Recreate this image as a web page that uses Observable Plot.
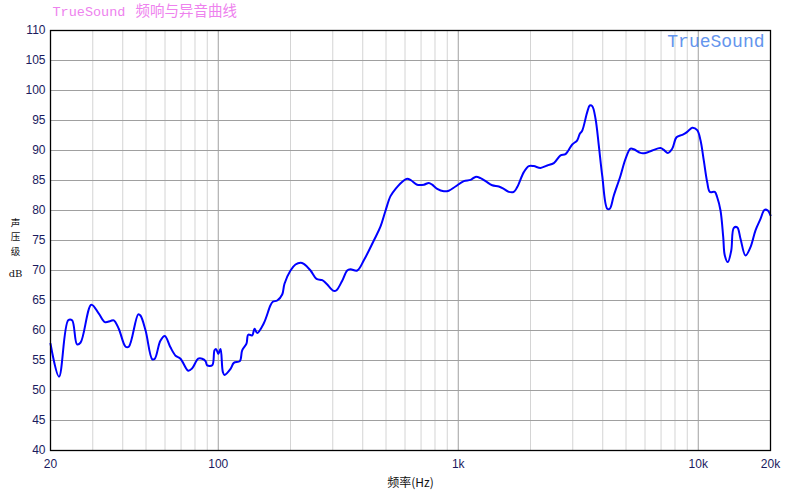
<!DOCTYPE html>
<html>
<head>
<meta charset="utf-8">
<script src="https://cdn.jsdelivr.net/npm/d3@7"></script>
<script src="https://cdn.jsdelivr.net/npm/@observablehq/plot@0.6"></script>
<style>
  html, body { margin: 0; padding: 0; background: white; }
</style>
</head>
<body>
<div id="chart"></div>
<script>
const freq = [20, 21.7, 23.7, 24.6, 25.8, 26.7, 29.6, 31.8, 33.7, 35.6, 36.7, 38.5, 41.1, 42.4, 46.4, 47.4, 49.8, 53.1, 54.4, 57.4,
  59.9, 63.2, 66.4, 69.6, 75.0, 77.9, 82.5, 85.7, 88.5, 89.9, 94.4, 96.5, 98.0, 100, 102.2, 104.5, 106.2, 112.5, 116.1, 123,
  125.8, 131.1, 133.3, 138.5, 141.6, 145.3, 154.8, 165.1, 168.8, 176.1, 184.7, 188.8, 200, 209.8, 220.2, 227.2, 242.4, 256.7, 271.2, 282.5,
  302.9, 310.9, 328.5, 344.6, 355.7, 379.3, 404.2, 444.9, 474, 498, 522, 548, 593, 613, 637, 674, 719, 754, 779, 817,
  871, 913, 974, 1055, 1125, 1180, 1238, 1299, 1385, 1476, 1548, 1624, 1704, 1761, 1876, 1968, 2064, 2202, 2348, 2502,
  2668, 2798, 2985, 3131, 3210, 3284, 3446, 3533, 3616, 3732, 3852, 3980, 4176, 4280, 4448, 4743, 4977, 5221, 5388, 5743,
  6028, 6430, 6963, 7185, 7468, 7788, 8117, 8573, 8848, 9222, 9437, 9900, 10218, 10548, 10898, 11174, 11722, 11994, 12380, 12705,
  12902, 13278, 13720, 14066, 14534, 14998, 15734, 16508, 17320, 18172, 18882, 19490, 20000];
const spl = [57.8, 52.3, 61.7, 61.7, 57.7, 58.0, 64.3, 62.8, 61.4, 61.6, 61.7, 60.3, 57.3, 57.3, 62.7, 62.5, 60.0, 55.2, 55.3, 58.3,
  59.1, 57.2, 55.8, 55.3, 53.3, 53.7, 55.3, 55.3, 54.9, 54.2, 54.2, 56.7, 56.9, 56.1, 56.9, 53.1, 52.6, 53.6, 54.6, 54.9,
  56.7, 57.8, 59.3, 59.2, 60.3, 59.6, 61.2, 64.2, 64.8, 65.0, 66.0, 67.8, 70.0, 71.0, 71.3, 71.1, 70.0, 68.6, 68.4, 67.8,
  66.6, 66.7, 68.3, 70.0, 70.2, 70.0, 71.7, 75.0, 77.3, 80.0, 82.4, 83.6, 85.0, 85.3, 85.0, 84.3, 84.3, 84.6, 84.3, 83.6,
  83.2, 83.3, 84.0, 84.9, 85.1, 85.6, 85.4, 84.9, 84.2, 84.0, 83.6, 83.1, 83.1, 83.9, 86.4, 87.4, 87.4, 87.1, 87.5, 87.9,
  89.2, 89.4, 91.0, 91.7, 92.8, 93.3, 96.4, 97.5, 97.4, 95.3, 90.8, 85.8, 80.3, 80.3, 82.5, 85.8, 88.6, 90.3, 90.2, 89.6,
  89.6, 90.0, 90.4, 90.1, 89.6, 90.3, 92.2, 92.6, 92.9, 93.5, 93.8, 93.4, 91.7, 88.3, 84.7, 83.1, 83.1, 82.2, 80.0, 75.6,
  72.5, 71.4, 73.3, 77.1, 77.2, 75.3, 72.5, 73.9, 76.7, 78.6, 80.1, 80.0, 79.2];

const yTicks = [40, 45, 50, 55, 60, 65, 70, 75, 80, 85, 90, 95, 100, 105, 110];
const xTickValues = [20, 100, 1000, 10000, 20000];
const xTickLabels = ["20", "100", "1k", "10k", "20k"];
const majorGrid = [100, 1000, 10000];
const minorGrid = [30, 40, 50, 60, 70, 80, 90, 200, 300, 400, 500, 600, 700, 800, 900,
  2000, 3000, 4000, 5000, 6000, 7000, 8000, 9000];

const titleBrand = "TrueSound";
const titleText = "频响与异音曲线";
const watermark = "TrueSound";
const xLabel = "频率(Hz)";
const yLabelChars = ["声", "压", "级"];
const yUnit = "dB";

const data = freq.map((f, i) => ({f, db: spl[i]}));
const xLabelMap = new Map(xTickValues.map((v, i) => [v, xTickLabels[i]]));
const tickColor = "#1a1a5e";
const mono = "'Liberation Mono', 'DejaVu Sans Mono', monospace";
const cjk = "'Noto Sans CJK SC', 'Noto Sans', sans-serif";

const chart = Plot.plot({
  width: 800,
  height: 500,
  marginTop: 30,
  marginLeft: 50,
  marginRight: 30,
  marginBottom: 50,
  x: {type: "log", domain: [20, 20000]},
  y: {domain: [40, 110]},
  style: {fontFamily: "'Liberation Sans', Arial, sans-serif", fontSize: "12px", background: "white"},
  marks: [
    Plot.ruleX(minorGrid, {stroke: "#d4d4d4", strokeWidth: 1}),
    Plot.ruleX(majorGrid, {stroke: "#a0a0a0", strokeWidth: 1}),
    Plot.ruleY(yTicks, {stroke: "#a0a0a0", strokeWidth: 1}),
    Plot.line(data, {x: "f", y: "db", stroke: "#0000ff", strokeWidth: 2, curve: "catmull-rom"}),
    Plot.frame({stroke: "black", strokeWidth: 1.3}),
    Plot.axisY({ticks: yTicks, tickSize: 0, tickPadding: 5, color: tickColor, label: null, fontSize: 12}),
    Plot.axisX({ticks: xTickValues, tickFormat: d => xLabelMap.get(d), tickSize: 0, tickPadding: 9, color: tickColor, label: null, fontSize: 12}),
    Plot.text([titleBrand], {frameAnchor: "top-left", dx: 2, dy: -19, textAnchor: "start", lineAnchor: "middle",
      fill: "#ee82ee", fontFamily: mono, fontSize: 13.5}),
    Plot.text([titleText], {frameAnchor: "top-left", dx: 85, dy: -19, textAnchor: "start", lineAnchor: "middle",
      fill: "#ee82ee", fontFamily: cjk, fontSize: 14.5}),
    Plot.text([watermark], {frameAnchor: "top-right", dx: -6, dy: 11, textAnchor: "end", lineAnchor: "middle",
      fill: "#6495ed", fontFamily: mono, fontSize: 18}),
    Plot.text([xLabel], {frameAnchor: "bottom", dy: 33, lineAnchor: "middle", fill: "#111", fontFamily: cjk, fontSize: 12}),
    ...yLabelChars.map((c, i) => Plot.text([c], {frameAnchor: "left", dx: -35, dy: -18 + i * 14.5, textAnchor: "middle", lineAnchor: "middle",
      fill: "#111", fontFamily: cjk, fontSize: 9.5})),
    Plot.text([yUnit], {frameAnchor: "left", dx: -35, dy: 33, textAnchor: "middle", lineAnchor: "middle",
      fill: "#111", fontFamily: "'DejaVu Serif', serif", fontSize: 10})
  ]
});
document.getElementById("chart").appendChild(chart);
</script>
</body>
</html>
